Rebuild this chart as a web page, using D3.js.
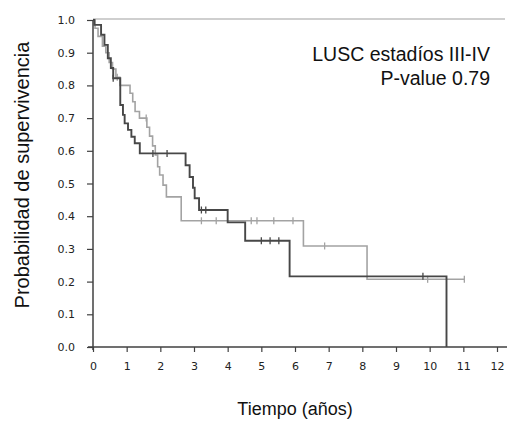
<!DOCTYPE html>
<html>
<head>
<meta charset="utf-8">
<script src="https://cdn.jsdelivr.net/npm/d3@7"></script>
<style>
  body { margin: 0; background: #fff; }
</style>
</head>
<body>
<div id="container"></div>
<script>
// kaplan-meier data (time in years, survival after the step)
const darkTimes = [0, 0.04, 0.24, 0.34, 0.44, 0.53, 0.6, 0.81, 0.89, 0.94, 1.04, 1.14, 1.24, 1.39, 2.75, 2.87, 2.97, 3.02, 3.15, 4.0, 4.52, 5.84, 10.5]
const darkSurv = [1.0, 0.985, 0.955, 0.924, 0.883, 0.853, 0.822, 0.74, 0.71, 0.684, 0.664, 0.643, 0.623, 0.592, 0.556, 0.52, 0.487, 0.455, 0.419, 0.381, 0.325, 0.216, 0]
const darkCensor = [0.6, 1.78, 2.2, 3.22, 3.35, 5.0, 5.26, 5.52, 9.8]

const lightTimes = [0, 0.06, 0.15, 0.28, 0.38, 0.48, 0.58, 0.68, 0.8, 1.1, 1.18, 1.25, 1.38, 1.6, 1.68, 1.77, 1.85, 1.92, 1.98, 2.08, 2.18, 2.62, 6.25, 8.14, 11.03]
const lightSurv = [1.0, 0.975, 0.95, 0.92, 0.9, 0.87, 0.85, 0.825, 0.8, 0.776, 0.75, 0.72, 0.7, 0.672, 0.645, 0.615, 0.587, 0.551, 0.526, 0.495, 0.459, 0.386, 0.309, 0.207, 0.207]
const lightCensor = [0.72, 1.58, 3.22, 3.66, 4.7, 4.87, 5.37, 5.94, 6.88, 9.94, 11.03]

const xTicks = [0, 1, 2, 3, 4, 5, 6, 7, 8, 9, 10, 11, 12]
const yTicks = [0, 0.1, 0.2, 0.3, 0.4, 0.5, 0.6, 0.7, 0.8, 0.9, 1.0]

const width = 507
const height = 421
const margin = { top: 20, right: 10, bottom: 74, left: 93 }

const svg = d3.select("#container").append("svg")
  .attr("width", width)
  .attr("height", height)

const x = d3.scaleLinear().domain([0, 12]).range([margin.left, 497])
const y = d3.scaleLinear().domain([0, 1]).range([height - margin.bottom, margin.top])

// light line along the top of the plot area
svg.append("line")
  .attr("x1", x(0)).attr("x2", width - 2)
  .attr("y1", y(1) - 1).attr("y2", y(1) - 1)
  .style("stroke", "#cfcfcf")
  .style("stroke-width", 2)

// axes
const xAxis = svg.append("g")
  .attr("transform", "translate(0," + y(0) + ")")
  .call(d3.axisBottom(x).tickValues(xTicks).tickFormat(d3.format("d")).tickSize(5).tickPadding(10))
xAxis.select(".domain").remove()
xAxis.append("line")
  .attr("x1", x(0) - 5).attr("x2", width)
  .style("stroke", "#404040").style("stroke-width", 1.5)

const yAxis = svg.append("g")
  .attr("transform", "translate(" + x(0) + ",0)")
  .call(d3.axisLeft(y).tickValues(yTicks).tickFormat(d3.format(".1f")).tickSize(6).tickPadding(12))
yAxis.select(".domain").remove()
yAxis.append("line")
  .attr("y1", y(0) + 3).attr("y2", y(1))
  .style("stroke", "#404040").style("stroke-width", 1.5)

svg.selectAll(".tick line").style("stroke", "#404040").style("stroke-width", 1.2)
svg.selectAll(".tick text")
  .style("font-family", "DejaVu Sans, Verdana, sans-serif")
  .style("font-size", "11px")
  .style("fill", "#222")

// curves, light one underneath
const line = d3.line()
  .x(d => x(d[0]))
  .y(d => y(d[1]))
  .curve(d3.curveStepAfter)

function drawCurve(times, surv, censor, colour, w) {
  const pts = times.map((t, i) => [t, surv[i]])
  svg.append("path")
    .datum(pts)
    .attr("d", line)
    .style("fill", "none")
    .style("stroke", colour)
    .style("stroke-width", w)

  // censor ticks sit on the step value at that time
  const bis = d3.bisector(d => d).right
  svg.selectAll(null)
    .data(censor)
    .enter()
    .append("line")
      .attr("x1", d => x(d)).attr("x2", d => x(d))
      .attr("y1", d => y(surv[bis(times, d) - 1]) - 3.5)
      .attr("y2", d => y(surv[bis(times, d) - 1]) + 3.5)
      .style("stroke", colour)
      .style("stroke-width", 1.3)
}

drawCurve(lightTimes, lightSurv, lightCensor, "#a3a3a3", 1.6)
drawCurve(darkTimes, darkSurv, darkCensor, "#474747", 1.9)

// titles
svg.append("text")
  .attr("x", (x(0) + x(12)) / 2)
  .attr("y", 415)
  .attr("text-anchor", "middle")
  .style("font-family", "Liberation Sans, Arial, sans-serif")
  .style("font-size", "18px")
  .style("fill", "#111")
  .text("Tiempo (años)")

svg.append("text")
  .attr("transform", "translate(29," + 175 + ") rotate(-90)")
  .attr("text-anchor", "middle")
  .style("font-family", "Liberation Sans, Arial, sans-serif")
  .style("font-size", "20px")
  .style("fill", "#111")
  .text("Probabilidad de supervivencia")

const note = svg.append("text")
  .attr("text-anchor", "end")
  .style("font-family", "Liberation Sans, Arial, sans-serif")
  .style("font-size", "19.5px")
  .style("fill", "#111")
note.append("tspan").attr("x", 490).attr("y", 61).text("LUSC estadíos III-IV")
note.append("tspan").attr("x", 490).attr("y", 85).text("P-value 0.79")
</script>
</body>
</html>
